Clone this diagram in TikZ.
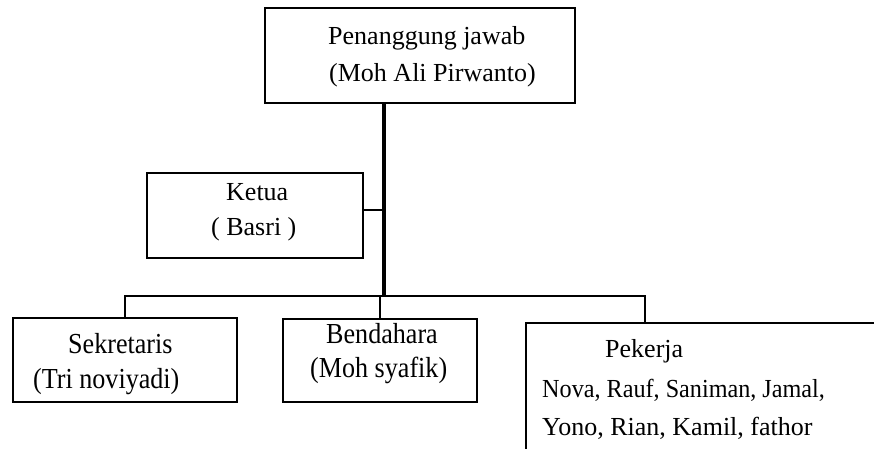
\documentclass[tikz,border=0pt]{standalone}
\usepackage{fontspec}
\setmainfont{Liberation Serif}
\usetikzlibrary{positioning}
\tikzstyle{box} = [rectangle, draw, line width=2pt, inner sep=0pt, outer sep=0pt]
\tikzstyle{word} = [anchor=base west, inner sep=0pt, font=\fontsize{26}{31}\selectfont]
\tikzstyle{tall} = [word, font=\fontsize{29}{35}\selectfont]
\tikzstyle{link} = [line width=2pt]
\tikzstyle{trunk} = [line width=4pt]
\newcommand{\squeeze}[2][0.9]{\scalebox{#1}[1]{#2}}

\begin{document}
\begin{tikzpicture}[x=1pt, y=-1pt]
    \clip (0,0) rectangle (874,448);

    % boxes
    \node[box, minimum width=310pt, minimum height=95pt] (pj) at (420,55.5) {};
    \node[box, minimum width=216pt, minimum height=85pt] (ketua) at (255,215.5) {};
    \node[box, minimum width=224pt, minimum height=84pt] (sek) at (125,360) {};
    \node[box, minimum width=194pt, minimum height=83pt] (ben) at (380,360.5) {};
    \node[box, minimum width=374pt, minimum height=157pt] (pek) at (713,401.5) {};

    % texts
    \node[word] (pj1) at (328,44) {Penanggung jawab};
    \node[word] (pj2) at (329,81) {(Moh Ali Pirwanto)};
    \node[word] (ket1) at (226,200) {Ketua};
    \node[word] (ket2) at (211,235) {( Basri )};
    \node[tall] (sek1) at (68,353) {\squeeze{Sekretaris}};
    \node[tall] (sek2) at (33,388) {\squeeze{(Tri noviyadi)}};
    \node[tall] (ben1) at (326,343) {\squeeze{Bendahara}};
    \node[tall] (ben2) at (310,377) {\squeeze{(Moh syafik)}};
    \node[word] (pek1) at (605,357) {Pekerja};
    \node[word] (pek2) at (542,397) {\squeeze[0.93]{Nova, Rauf, Saniman, Jamal,}};
    \node[word] (pek3) at (542,435) {Yono, Rian, Kamil, fathor};

    % lines
    \coordinate (hub) at (384,296);
    \coordinate (drop) at (645,296);
    \draw[trunk] (pj.south -| hub) -- (hub);
    \draw[link] ([yshift=5.5pt]ketua.east) -- ([yshift=5.5pt]ketua.east -| hub);
    \draw[link] (sek.north) |- (drop) -- (drop |- pek.north);
    \draw[link] (ben.north) -- (ben.north |- hub);
\end{tikzpicture}
\end{document}
